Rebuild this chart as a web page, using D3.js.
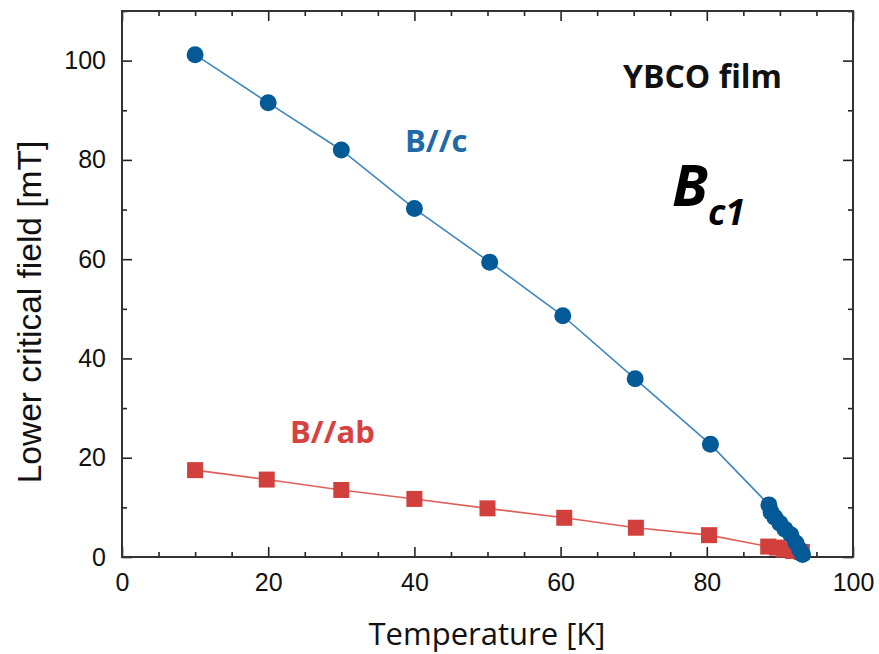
<!DOCTYPE html>
<html>
<head>
    <meta charset="utf-8">
    <title>Lower critical field of YBCO film</title>
    <script src="https://cdn.jsdelivr.net/npm/d3@7"></script>
    <style>
        body { margin: 0; background: #fff; }
        .tick text { font-family: "Liberation Sans", Arial, sans-serif; }
    </style>
</head>
<body>
    <svg width="879" height="654"></svg>

    <script>
        // values
        var tempC = [10, 20, 30, 40, 50.3, 60.3, 70.2, 80.5, 88.5, 88.8, 89.3, 90, 90.7, 91.5, 92.2, 92.7, 93.1];
        var bc1C = [101.2, 91.5, 82, 70.2, 59.4, 48.6, 35.9, 22.7, 10.5, 9, 8, 6.8, 5.6, 4.5, 2.8, 1.5, 0.5];

        var tempAB = [10, 19.8, 30, 40, 50, 60.5, 70.3, 80.3, 88.4, 89.6, 90.6, 91.8, 93];
        var bc1AB = [17.5, 15.6, 13.5, 11.7, 9.8, 7.9, 5.9, 4.4, 2.1, 1.9, 1.5, 1.2, 1.0];

        var xTicks = [0, 20, 40, 60, 80, 100];
        var yTicks = [0, 20, 40, 60, 80, 100];

        var svg = d3.select("svg");
        var padL = 122, padR = 853, padT = 11, padB = 557;

        var x = d3.scaleLinear().domain([0, 100]).range([padL, padR]);
        var y = d3.scaleLinear().domain([0, 110]).range([padB, padT]);

        var xMinor = d3.range(0, 101, 5).filter(function(d) { return d % 20 != 0; });
        var yMinor = d3.range(0, 111, 10).filter(function(d) { return d % 20 != 0; });

        // inward ticks on all four sides
        function drawAxis(gen, tr, vals, size, labels) {
            var g = svg.append("g").attr("transform", tr)
                .call(gen.tickValues(vals).tickSize(size).tickPadding(labels ? 16 : 0)
                    .tickFormat(labels ? d3.format("d") : ""));
            g.select(".domain").remove();
            g.selectAll(".tick line").attr("stroke", "#222").attr("stroke-width", 1.6);
            g.selectAll(".tick text").attr("font-size", "25px").attr("fill", "#111");
            return g;
        }

        drawAxis(d3.axisBottom(x), "translate(0," + padB + ")", xTicks, -10, true);
        drawAxis(d3.axisBottom(x), "translate(0," + padB + ")", xMinor, -5, false);
        drawAxis(d3.axisTop(x), "translate(0," + padT + ")", xTicks, -10, false);
        drawAxis(d3.axisTop(x), "translate(0," + padT + ")", xMinor, -5, false);
        drawAxis(d3.axisLeft(y), "translate(" + padL + ",0)", yTicks, -10, true);
        drawAxis(d3.axisLeft(y), "translate(" + padL + ",0)", yMinor, -5, false);
        drawAxis(d3.axisRight(y), "translate(" + padR + ",0)", yTicks, -10, false);
        drawAxis(d3.axisRight(y), "translate(" + padR + ",0)", yMinor, -5, false);

        svg.append("rect")
            .attr("x", padL).attr("y", padT)
            .attr("width", padR - padL).attr("height", padB - padT)
            .attr("fill", "none")
            .attr("stroke", "#333")
            .attr("stroke-width", 2);

        var line = d3.line()
            .x(function(d) { return x(d[0]); })
            .y(function(d) { return y(d[1]); });

        var abData = d3.zip(tempAB, bc1AB);
        var cData = d3.zip(tempC, bc1C);

        // B//ab
        svg.append("path")
            .datum(abData)
            .attr("fill", "none")
            .attr("stroke", "#e0605c")
            .attr("stroke-width", 1.6)
            .attr("d", line);

        svg.append("g").selectAll("rect")
            .data(abData)
            .enter().append("rect")
            .attr("x", function(d) { return x(d[0]) - 8; })
            .attr("y", function(d) { return y(d[1]) - 8; })
            .attr("width", 16)
            .attr("height", 16)
            .attr("fill", "#d2403e");

        // B//c
        svg.append("path")
            .datum(cData)
            .attr("fill", "none")
            .attr("stroke", "#3f87bd")
            .attr("stroke-width", 1.6)
            .attr("d", line);

        svg.append("g").selectAll("circle")
            .data(cData)
            .enter().append("circle")
            .attr("cx", function(d) { return x(d[0]); })
            .attr("cy", function(d) { return y(d[1]); })
            .attr("r", 8.5)
            .attr("fill", "#045a96");

        // axis titles
        svg.append("text")
            .attr("x", 487)
            .attr("y", 645)
            .attr("text-anchor", "middle")
            .attr("font-family", "Open Sans, sans-serif")
            .attr("font-size", "31px")
            .attr("fill", "#111")
            .text("Temperature [K]");

        svg.append("text")
            .attr("transform", "translate(41,312) rotate(-90)")
            .attr("text-anchor", "middle")
            .attr("font-family", "Liberation Sans, Arial, sans-serif")
            .attr("font-size", "33.5px")
            .attr("fill", "#111")
            .text("Lower critical field [mT]");

        // annotations
        svg.append("text")
            .attr("x", 623).attr("y", 88)
            .attr("font-family", "Open Sans, sans-serif")
            .attr("font-weight", "bold")
            .attr("font-size", "32px")
            .attr("fill", "#111")
            .text("YBCO film");

        svg.append("text")
            .attr("x", 405).attr("y", 152)
            .attr("font-family", "Open Sans, sans-serif")
            .attr("font-weight", "bold")
            .attr("font-size", "31px")
            .attr("fill", "#1f6aa6")
            .text("B//c");

        svg.append("text")
            .attr("x", 290).attr("y", 443)
            .attr("font-family", "Open Sans, sans-serif")
            .attr("font-weight", "bold")
            .attr("font-size", "31px")
            .attr("fill", "#d6423f")
            .text("B//ab");

        var bc = svg.append("text")
            .attr("x", 672).attr("y", 206)
            .attr("font-family", "Open Sans, sans-serif")
            .attr("font-weight", "bold")
            .attr("font-style", "italic")
            .attr("font-size", "58px")
            .attr("fill", "#000");
        bc.append("tspan").text("B");
        bc.append("tspan")
            .attr("dy", 19)
            .attr("font-size", "36px")
            .text("c1");
    </script>
</body>
</html>
